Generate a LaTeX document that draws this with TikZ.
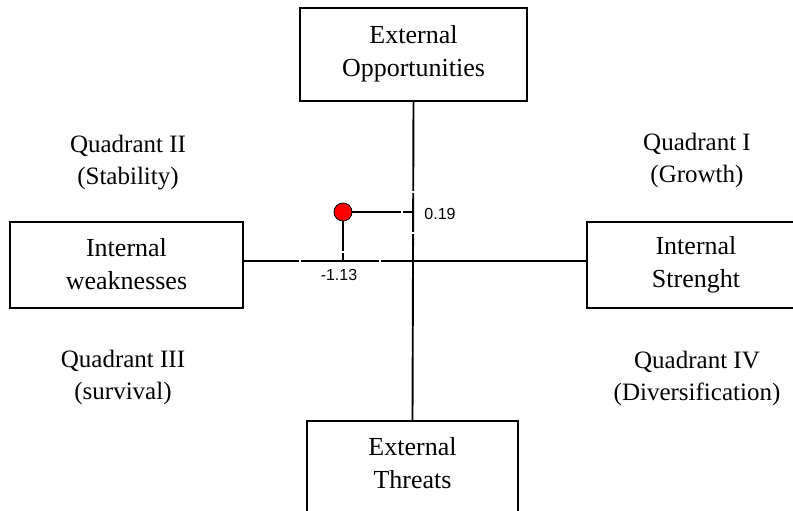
\documentclass[tikz,border=0pt]{standalone}
\usepackage{fontspec}
\setmainfont{Liberation Serif}
\newfontfamily\labfont{Liberation Sans}
\begin{document}
\begin{tikzpicture}[x=1pt,y=-1pt,
  box/.style={draw=black,line width=1.8pt,fill=white,inner sep=0pt},
  boxtext/.style={align=center,font=\fontsize{26}{33}\selectfont},
  quad/.style={align=center,font=\fontsize{25}{32}\selectfont},
  axis/.style={draw=black,line width=1.9pt},
  val/.style={font=\labfont\fontsize{16}{18}\selectfont},
  gap/.style={draw=white,line width=1.6pt}]
\useasboundingbox (0,0) rectangle (793,511);
\clip (0,0) rectangle (793,511);
% centre
\coordinate (o) at (413,261);
% boxes
\node[box,minimum width=227pt,minimum height=93pt] (top) at (413.5,54.5) {};
\node[boxtext] (toptxt) at (413.5,54) {External\\Opportunities};
\node[box,minimum width=233pt,minimum height=86pt] (left) at (126.5,265) {};
\node[boxtext] (lefttxt) at (126.5,264) {Internal\\weaknesses};
\node[box,minimum width=213pt,minimum height=86pt] (right) at (693.5,265) {};
\node[boxtext] (righttxt) at (696,265) {Internal\\Strenght};
\node[box,minimum width=211pt,minimum height=100pt] (bot) at (412.5,471) {};
\node[boxtext] (bottxt) at (412.5,463) {External\\Threats};
% axes
\draw[axis] (top.south) -- (bot.north);
\draw[axis] (left.east |- o) -- (right.west |- o);
% point
\coordinate (px) at (413,212);
\coordinate (py) at (343,261);
\node[circle,draw=black,line width=0.8pt,fill=red,minimum size=18pt,inner sep=0pt] (pt) at (343,212) {};
\draw[axis] (pt.east) -- (px);
\draw[axis] (pt.south) -- (py);
% small gaps (tick marks)
\draw[gap] (409,192) -- (417,192);
\draw[gap] (409,233) -- (417,233);
\draw[gap] (300,257) -- (300,265);
\draw[gap] (380,257) -- (380,265);
\draw[gap] (402,208) -- (402,216);
\draw[gap] (339,252) -- (347,252);
% values
\node[val] (v1) at (440,214) {0.19};
\node[val] (v2) at (339,275) {-1.13};
% quadrant labels
\node[quad] (q2) at (128,163) {Quadrant II\\(Stability)};
\node[quad] (q1) at (697,160) {Quadrant I\\(Growth)};
\node[quad] (q3) at (123,377) {Quadrant III\\(survival)};
\node[quad] (q4) at (697,378) {Quadrant IV\\(Diversification)};
\end{tikzpicture}
\end{document}
